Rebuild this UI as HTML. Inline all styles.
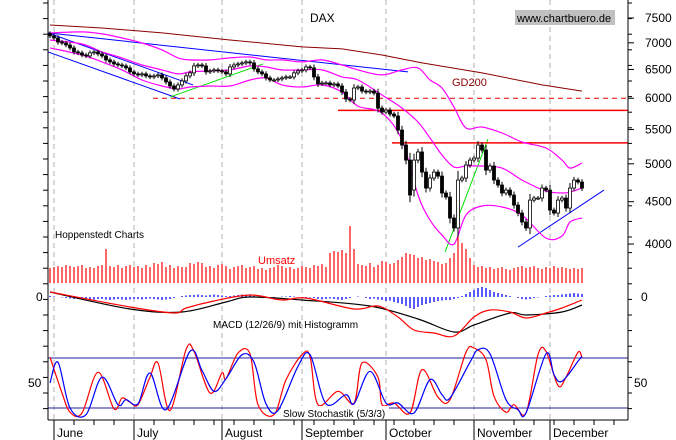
<!DOCTYPE html>
<html><head><meta charset="utf-8"><style>
html,body{margin:0;padding:0;background:#fff;}
svg{display:block;font-family:"Liberation Sans",sans-serif;}
</style></head><body>
<svg id="chart" width="676" height="440" viewBox="0 0 676 440" xmlns="http://www.w3.org/2000/svg">
<rect x="0" y="0" width="676" height="440" fill="#fff"/>
<g id="grid"></g>
<g id="price"></g>
<g id="vol"></g>
<g id="macd"></g>
<g id="stoch"></g>
<g id="axes"></g>
<text x="310" y="22" font-size="12">DAX</text>
<rect x="515" y="10" width="100" height="15" fill="#c0c0c0"/>
<text x="517" y="22" font-size="11">www.chartbuero.de</text>
<text x="452" y="86" font-size="11" fill="#8b0000">GD200</text>
<text x="55" y="238" font-size="10">Hoppenstedt Charts</text>
<text x="258" y="264" font-size="11" fill="#f00">Umsatz</text>
<text x="213" y="328" font-size="10">MACD (12/26/9) mit Histogramm</text>
</svg>
<script>
const closes=[7135,7095,7015,6996,6958,6901,6825,6806,6767,6749,6806,6825,6787,6749,6675,6638,6601,6582,6564,6528,6456,6420,
6402,6420,6384,6366,6384,6402,6349,6278,6208,6156,6226,6296,6384,6438,6564,6582,6564,6456,6474,6492,6474,6456,6420,
6546,6582,6601,6619,6638,6619,6510,6456,6420,6349,6313,6313,6331,6349,6366,6366,6438,6474,6492,6546,6528,
6366,6243,6261,6261,6226,6243,6208,6104,5987,5970,6173,6191,6121,6104,6121,6087,5838,5774,5806,5742,5711,5492,
5268,5052,4584,5052,5167,4886,4674,4806,4886,4832,4610,4559,4300,4183,4779,4806,4983,5052,5080,5268,5195,4913,4969,
4779,4713,4610,4648,4584,4458,4360,4253,4183,4520,4546,4546,4674,4648,4396,4360,4520,
4546,4421,4674,4779,4753,4674];
const opens=[7180,7135,7095,7015,6996,6958,6901,6825,6806,6767,6749,6806,6825,6787,6749,6675,6638,6601,6582,6564,6528,6456,
6420,6402,6420,6384,6366,6384,6402,6349,6278,6208,6156,6226,6296,6384,6438,6564,6582,6564,6456,6474,6492,6474,6456,
6420,6546,6582,6601,6619,6638,6619,6510,6456,6420,6349,6313,6313,6331,6349,6366,6366,6438,6474,6492,6546,
6528,6366,6243,6261,6261,6226,6243,6208,6104,5987,5970,6173,6191,6121,6104,6121,6087,5838,5774,5806,5742,5711,
5492,5268,5052,4648,5052,5167,4886,4674,4806,4886,4832,4610,4559,4300,4183,4779,4806,4983,5052,5080,5268,5195,4913,
4969,4779,4713,4610,4648,4584,4458,4360,4253,4183,4520,4546,4546,4674,4648,4396,4360,
4520,4546,4421,4674,4779,4753];
const volumes=[150,160,170,160,180,170,160,170,180,150,160,150,170,180,340,170,160,180,150,170,180,160,
170,150,180,160,200,190,210,160,180,150,170,160,160,200,190,210,200,160,170,150,180,190,170,
140,160,170,180,150,160,170,140,150,130,150,160,180,170,150,160,140,150,170,160,150,
180,170,190,160,300,320,310,330,300,570,340,190,180,170,200,160,180,220,210,190,200,230,
260,300,290,280,250,260,230,240,220,210,190,200,250,300,460,400,340,250,180,160,170,150,160,
140,150,160,140,130,150,160,170,150,160,170,150,140,160,150,170,150,
160,150,140,150,140,150];
const histogram=[10,5,0,-5,-10,-15,-20,-20,-15,-20,-20,-25,-20,-20,-25,-30,-25,-20,-25,-30,-25,-20,
-20,-25,-20,-15,-20,-25,-30,-25,-20,-10,0,10,15,20,20,25,20,15,20,25,20,15,10,
10,15,20,25,20,15,10,5,0,-5,-10,-5,0,5,5,10,5,0,-5,-10,-5,
-10,-20,-25,-20,-15,-20,-25,-30,-20,-10,0,5,0,-10,-20,-15,-25,-30,-40,-35,-50,-60,
-70,-90,-110,-120,-100,-80,-70,-60,-50,-40,-35,-30,-30,-20,-10,10,30,50,70,90,100,90,70,
50,40,30,20,10,0,-10,-20,-25,-20,-10,-5,0,10,15,20,20,
25,30,35,40,35,30];
const bandDays=[0,8,13,18,23,28,32,35,40,45,50,54,58,63,68,73,77,83,88,92,95,98,101,104,108,113,118,124,128,130,133];
const bandUpper=[7196,7216,7176,7095,6996,6863,6712,6675,6675,6712,6730,6675,6675,6638,6675,6582,6492,6402,6492,6528,6313,6173,5854,5524,5539,5447,5313,5225,5052,4941,5010];
const bandMid=[7055,6977,6825,6712,6582,6492,6420,6456,6474,6492,6564,6546,6492,6492,6492,6366,6313,6054,5838,5616,5372,5124,4955,4969,4969,4941,4779,4635,4610,4622,4674];
const bandLower=[6901,6767,6638,6492,6313,6208,6156,6191,6208,6208,6313,6349,6226,6191,6226,6104,5870,5758,5342,4584,4276,4101,4000,4336,4446,4434,4336,4067,4090,4253,4300];
const gd200Days=[0,13,28,45,63,73,83,93,108,123,133];
const gd200=[7355,7294,7196,7055,6920,6882,6767,6619,6438,6226,6121];
const macdDays=[0,20,31,34,41,50,58,64,76,82,87,91,96,101,106,110,115,119,124,128,133];
const macdLine=[50,-100,-160,-110,-40,20,-30,-10,-120,-90,-200,-330,-360,-390,-200,-130,-150,-210,-160,-110,-30];
const signalDays=[0,20,33,44,50,63,80,92,101,106,115,119,128,133];
const signalLine=[50,-120,-150,-50,0,-30,-90,-220,-350,-280,-160,-180,-150,-80];
const kDays=[0,3,5,8,12,16,18,20,22,25,27,30,34,36,40,43,44,47,50,52,56,59,63,65,67,72,76,78,82,83,86,90,93,97,100,104,106,109,111,114,116,119,122,124,127,129,132,133];
const kValues=[81,38,15,14,63,19,32,27,24,57,74,17,90,88,38,62,55,86,85,24,12,54,84,82,24,40,26,74,57,24,26,14,66,33,30,87,92,78,34,15,24,14,84,88,47,57,87,80];
const dDays=[0,2,5,9,13,17,19,22,25,29,35,38,41,44,48,51,54,57,62,65,69,74,76,80,84,87,91,95,98,100,105,107,110,114,117,119,124,126,128,132,133];
const dValues=[50,75,20,12,57,24,30,25,62,18,88,65,40,55,84,75,25,17,70,84,25,36,25,64,26,26,14,54,36,32,75,90,85,30,18,14,85,60,52,76,82];
const monthNames=["June","July","August","September","October","November","December"];
const monthStartDays=[1,21,43,63,84,106,125];
const priceTicks=[7500,7000,6500,6000,5500,5000,4500,4000];
const hLevels=[5800,5300];
const dashedLevel=[6000];
const trendBlue=[[-0.5,7196,89.5,6456],[-0.5,7196,35.75,6226],[-0.5,6825,32.5,5987],[117,3966,138.5,4648]];
const trendGreen=[[30,6020,53.25,6601],[98.75,3912,109.5,5357]];

const NS="http://www.w3.org/2000/svg";
const X0=50,DX=4,L=48,R=628;
const xs=d=>X0+d*DX;
const yP=p=>18+(Math.log10(7500)-Math.log10(p))*828;
const yV=v=>283-v/10;
const yM=v=>297-v/10;
const yS=v=>383-(v-50)*0.833;
function mk(tag,attrs,parent){const e=document.createElementNS(NS,tag);for(const k in attrs)e.setAttribute(k,attrs[k]);parent.appendChild(e);return e;}
function poly(days,vals,yf,color,parent,name,w){
  const pts=days.map((d,i)=>xs(d).toFixed(1)+","+yf(vals[i]).toFixed(1)).join(" ");
  const e=mk("polyline",{points:pts,fill:"none",stroke:color,"stroke-width":w||1},parent);
  
  
}
function smooth(days,vals,yf,color,parent,name){
  const p=days.map((d,i)=>[xs(d),yf(vals[i])]);
  let s="M"+p[0][0].toFixed(1)+","+p[0][1].toFixed(1);
  for(let i=0;i<p.length-1;i++){
    const p0=p[Math.max(0,i-1)],p1=p[i],p2=p[i+1],p3=p[Math.min(p.length-1,i+2)];
    const c1=[p1[0]+(p2[0]-p0[0])/6,p1[1]+(p2[1]-p0[1])/6];
    const c2=[p2[0]-(p3[0]-p1[0])/6,p2[1]-(p3[1]-p1[1])/6];
    s+=" C"+c1[0].toFixed(1)+","+c1[1].toFixed(1)+" "+c2[0].toFixed(1)+","+c2[1].toFixed(1)+" "+p2[0].toFixed(1)+","+p2[1].toFixed(1);
  }
  const e=mk("path",{d:s,fill:"none",stroke:color,"stroke-width":1.2},parent);
  
  
}
const grid=document.getElementById("grid"),price=document.getElementById("price"),vol=document.getElementById("vol"),
macd=document.getElementById("macd"),stoch=document.getElementById("stoch"),axes=document.getElementById("axes");

monthStartDays.forEach((d,i)=>{
  const e=mk("line",{x1:xs(d),x2:xs(d),y1:0,y2:420,stroke:"#b0b0b0","stroke-dasharray":"5,4"},grid);
  
  
});

poly(gd200Days,gd200,yP,"#8b0000",price,"gd200-line");
trendBlue.forEach(t=>{const e=mk("line",{x1:xs(t[0]),y1:yP(t[1]),x2:xs(t[2]),y2:yP(t[3]),stroke:"#0000ff"},price);
  
  });
trendGreen.forEach(t=>{const e=mk("line",{x1:xs(t[0]),y1:yP(t[1]),x2:xs(t[2]),y2:yP(t[3]),stroke:"#00e000"},price);
  
  });
hLevels.forEach((lv,i)=>{const e=mk("line",{x1:i==0?338:392,x2:R,y1:yP(lv),y2:yP(lv),stroke:"#f00","stroke-width":1.5},price);
  
  });
dashedLevel.forEach(lv=>{const e=mk("line",{x1:153,x2:R,y1:yP(lv),y2:yP(lv),stroke:"#d00","stroke-dasharray":"5,4"},price);
  
  });
smooth(bandDays,bandUpper,yP,"#ff00ff",price,"bollinger-upper");
smooth(bandDays,bandMid,yP,"#ff00ff",price,"bollinger-mid");
smooth(bandDays,bandLower,yP,"#ff00ff",price,"bollinger-lower");
closes.forEach((c,i)=>{
  const o=opens[i],x=xs(i),yo=yP(o),yc=yP(c),top=Math.min(yo,yc),bot=Math.max(yo,yc);
  const ext=2+Math.abs(yo-yc)*0.15;
  const w=mk("line",{x1:x,x2:x,y1:top-ext,y2:bot+ext,stroke:"#000"},price);
  
  
  const b=mk("rect",{x:x-1.5,y:top,width:3,height:Math.max(1,bot-top),fill:c<o?"#000":"#fff",stroke:"#000","stroke-width":0.8},price);
  
  
});
volumes.forEach((v,i)=>{const e=mk("line",{x1:xs(i),x2:xs(i),y1:283,y2:yV(v),stroke:"#f00","stroke-width":1.2},vol);
  
  });
histogram.forEach((v,i)=>{const e=mk("line",{x1:xs(i),x2:xs(i),y1:297,y2:297-v/10,stroke:"#0000ff","stroke-width":1.3},macd);
  
  });
smooth(signalDays,signalLine,yM,"#000",macd,"macd-signal-line");
smooth(macdDays,macdLine,yM,"#f00",macd,"macd-line");
[80,20].forEach(v=>{const e=mk("line",{x1:L,x2:R,y1:yS(v),y2:yS(v),stroke:"#2020a0"},stoch);
  
  });
smooth(kDays,kValues,yS,"#f00",stoch,"stoch-k-line");
smooth(dDays,dValues,yS,"#0000ff",stoch,"stoch-d-line");
const sb=mk("rect",{x:281,y:406,width:108,height:13,fill:"#fff"},stoch);


const st=mk("text",{x:283,y:417,"font-size":10},stoch);st.textContent="Slow Stochastik (5/3/3)";



function ln(a,p,name){const e=mk("line",a,p);e.setAttribute('stroke',a.stroke||'#000');return e;}
ln({x1:L,x2:L,y1:0,y2:420},axes,"left-axis");
ln({x1:R,x2:R,y1:0,y2:420},axes,"right-axis");
ln({x1:L,x2:R,y1:420,y2:420},axes,"x-axis");
for(let y=3;y<420;y+=15.6){ln({x1:L-5,x2:L,y1:y,y2:y},axes,"left-tick");}
priceTicks.forEach(p=>{
  ln({x1:R,x2:R+6,y1:yP(p),y2:yP(p)},axes,"right-tick");
  const t=mk("text",{x:645,y:yP(p)+4,"font-size":12},axes);t.textContent=p;
  
  
});
for(let y=3;y<420;y+=15.6){ln({x1:R,x2:R+4,y1:y,y2:y},axes,"right-minor-tick");}
[["0",36,297],["50",28,383],["0",641,297],["50",634,383]].forEach(a=>{
  const t=mk("text",{x:a[1],y:a[2]+4,"font-size":12},axes);t.textContent=a[0];
  
  });
for(let d=1;d<=145;d+=5){ln({x1:xs(d),x2:xs(d),y1:420,y2:425},axes,"week-tick");}
monthStartDays.forEach((d,i)=>{
  ln({x1:xs(d),x2:xs(d),y1:420,y2:440},axes,"month-tick");
  const t=mk("text",{x:xs(d)+3,y:437,"font-size":12},axes);t.textContent=monthNames[i];
  
  
});
</script>
</body></html>
